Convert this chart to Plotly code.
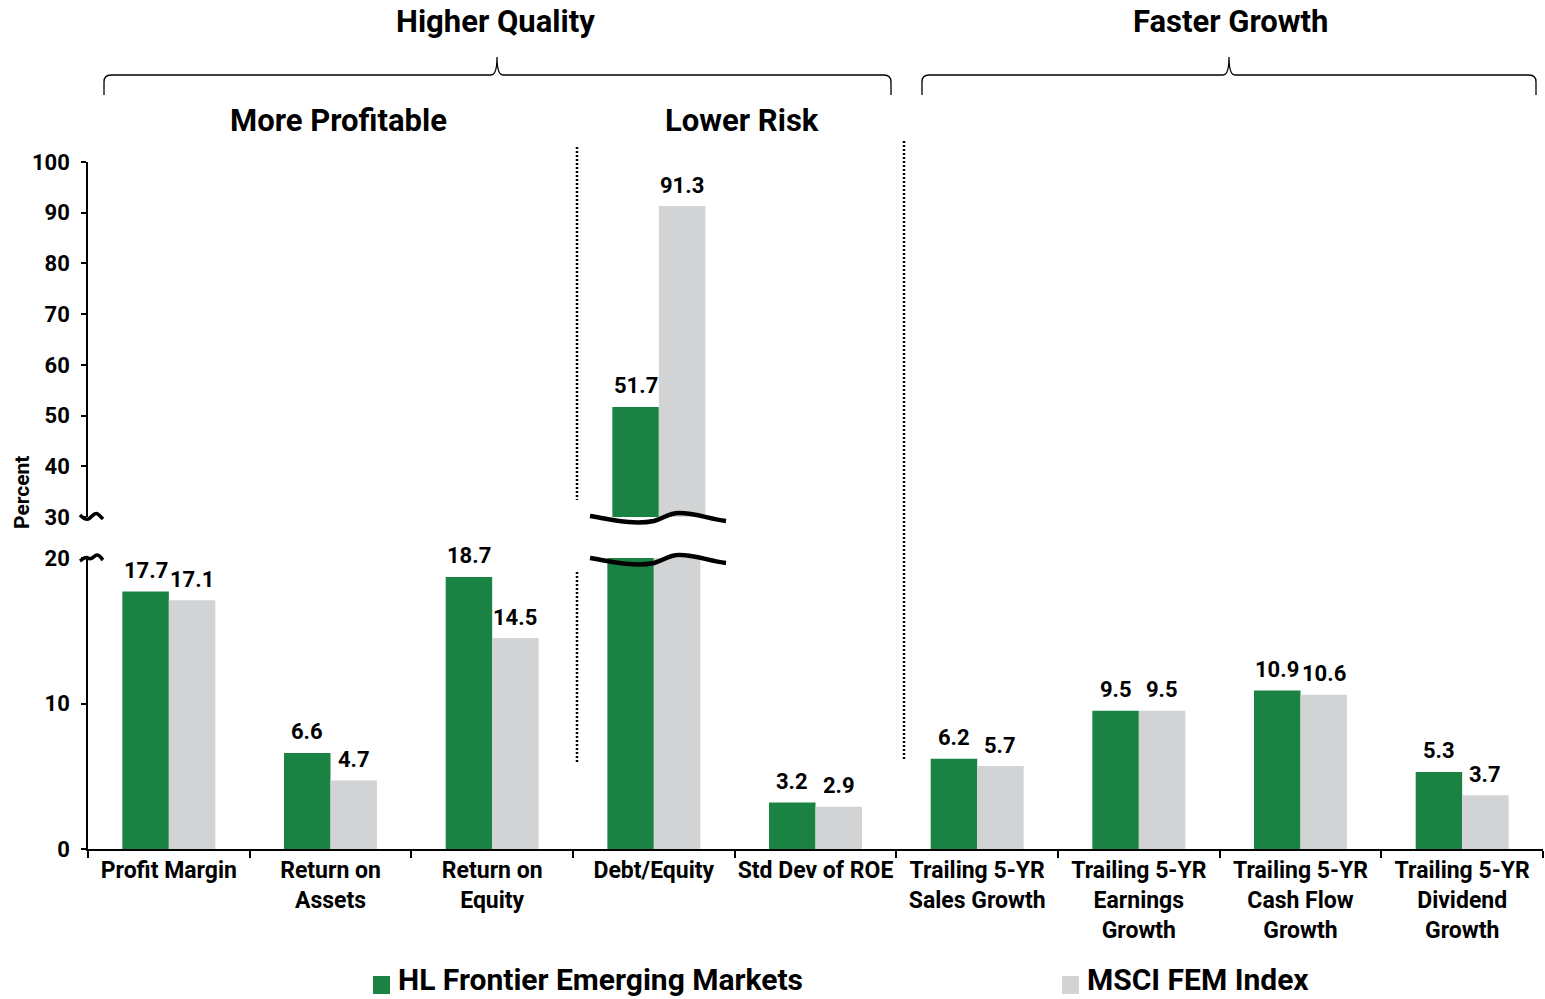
import plotly.graph_objects as go

# ---- data ----
categories = [
    "Profit Margin",
    "Return on<br>Assets",
    "Return on<br>Equity",
    "Debt/Equity",
    "Std Dev of ROE",
    "Trailing 5-YR<br>Sales Growth",
    "Trailing 5-YR<br>Earnings<br>Growth",
    "Trailing 5-YR<br>Cash Flow<br>Growth",
    "Trailing 5-YR<br>Dividend<br>Growth",
]
hl_fem = [17.7, 6.6, 18.7, 51.7, 3.2, 6.2, 9.5, 10.9, 5.3]
msci_fem = [17.1, 4.7, 14.5, 91.3, 2.9, 5.7, 9.5, 10.6, 3.7]
series_names = ["HL Frontier Emerging Markets", "MSCI FEM Index"]

lower_ticks = [0, 10, 20]
upper_ticks = [30, 40, 50, 60, 70, 80, 90, 100]
LOWER_MAX = 20   # top of the lower (0-20) axis segment
UPPER_MIN = 30   # bottom of the upper (30-100) axis segment
UPPER_MAX = 100

# ---- styling ----
GREEN = "#1A8242"
GREY = "#D1D3D4"
FONT = "Roboto"
W, H = 1545, 999
ML, MR, MT, MB = 88, 2, 162, 150
PW, PH = W - ML - MR, H - MT - MB
LOWER_DOMAIN = [0, 291 / PH]
UPPER_DOMAIN = [332 / PH, 1]
BARGAP = 0.425
BAR_W = (1 - BARGAP) / 2                  # width of one bar, in category units
CAT_PX = PW / len(categories)
HALF_BAR_PX = CAT_PX * BAR_W / 2           # centre offset of each bar in a pair
UPPER_NUDGE_PX = 5                         # upper segment bars sit slightly to the right
UPPER_NUDGE = UPPER_NUDGE_PX / CAT_PX


def px_x(p):
    return (p - ML) / PW


def px_y(p):
    return (H - MB - p) / PH


def fmt(v):
    return f"{v:.1f}"


def bold(size):
    return dict(family=FONT, size=size, color="black", weight="bold")


fig = go.Figure()
annotations = []
shapes = []

for i, (vals, color) in enumerate(((hl_fem, GREEN), (msci_fem, GREY))):
    # lower segment (0-20): bars capped at the break
    fig.add_trace(go.Bar(
        x=categories,
        y=[min(v, LOWER_MAX) for v in vals],
        marker=dict(color=color, line=dict(width=0)),
        xaxis="x", yaxis="y",
        showlegend=False, hoverinfo="skip",
    ))
    # upper segment (30-100): only values above the break
    fig.add_trace(go.Bar(
        x=categories,
        y=[v if v > UPPER_MIN else None for v in vals],
        width=BAR_W, offset=(i - 1) * BAR_W + UPPER_NUDGE,
        marker=dict(color=color, line=dict(width=0)),
        xaxis="x", yaxis="y2",
        showlegend=False, hoverinfo="skip",
    ))
    # value labels above each bar
    shift = -HALF_BAR_PX if i == 0 else HALF_BAR_PX
    for cat, v in zip(categories, vals):
        if v <= LOWER_MAX:
            yref, dx = "y", 0
        elif v > UPPER_MIN:
            yref, dx = "y2", UPPER_NUDGE_PX
        else:
            continue
        annotations.append(dict(
            text=fmt(v), x=cat, y=v, xref="x", yref=yref,
            xshift=shift + dx, yshift=21, xanchor="center", yanchor="middle",
            showarrow=False, font=bold(22),
        ))

# wavy break lines across the Debt/Equity bars
wave = "M -64,1 C -40,-3 -20,-8 0,-4 C 10,-1 15,4 25,4 C 42,4 55,-2 72,-4"
for yp in (517, 559):
    shapes.append(dict(
        type="path", xref="paper", yref="paper", xsizemode="pixel", ysizemode="pixel",
        xanchor=px_x(654), yanchor=px_y(yp), path=wave,
        line=dict(color="black", width=4.5), fillcolor="rgba(0,0,0,0)", layer="above",
    ))

# break marks on the y axis
shapes.append(dict(
    type="path", xref="paper", yref="paper", xsizemode="pixel", ysizemode="pixel",
    xanchor=0, yanchor=px_y(517),
    path="M -8,2 C -5,-1 -2,-4 2,-1 C 6,3 8,5 11,2 C 13,0 14,-1 15,-2",
    line=dict(color="black", width=3.5), fillcolor="rgba(0,0,0,0)",
))
shapes.append(dict(
    type="path", xref="paper", yref="paper", xsizemode="pixel", ysizemode="pixel",
    xanchor=0, yanchor=px_y(558),
    path="M -8,-3 C -5,-1 -3,2 0,0 C 4,-3 6,3 9,3 C 12,3 13,0 15,-2",
    line=dict(color="black", width=3.5), fillcolor="rgba(0,0,0,0)",
))

# dotted separators between groups
dots = dict(color="black", width=2.5, dash="2px,2px")
for x, y0, y1 in ((577, 147, 500), (577, 572, 762), (904, 141, 760)):
    shapes.append(dict(type="line", xref="paper", yref="paper",
                       x0=px_x(x), x1=px_x(x), y0=px_y(y0), y1=px_y(y1), line=dots))


# curly brackets over the groups
def brace(x0, xm, x1, ytop=75, ybot=95, ycusp=57, r=7):
    pts = (
        f"M {px_x(x0)},{px_y(ybot)} L {px_x(x0)},{px_y(ytop + r)} "
        f"Q {px_x(x0)},{px_y(ytop)} {px_x(x0 + r)},{px_y(ytop)} "
        f"L {px_x(xm - 6)},{px_y(ytop)} "
        f"Q {px_x(xm)},{px_y(ytop)} {px_x(xm)},{px_y(ycusp)} "
        f"Q {px_x(xm)},{px_y(ytop)} {px_x(xm + 6)},{px_y(ytop)} "
        f"L {px_x(x1 - r)},{px_y(ytop)} "
        f"Q {px_x(x1)},{px_y(ytop)} {px_x(x1)},{px_y(ytop + r)} "
        f"L {px_x(x1)},{px_y(ybot)}"
    )
    return dict(type="path", xref="paper", yref="paper", path=pts,
                line=dict(color="black", width=1.3), fillcolor="rgba(0,0,0,0)")


shapes.append(brace(104, 497, 891))
shapes.append(brace(922, 1229, 1536))


def label(text, x, y, size, xanchor="center", **kw):
    annotations.append(dict(
        text=text, x=px_x(x), y=px_y(y), xref="paper", yref="paper",
        xanchor=xanchor, yanchor="middle", borderpad=0,
        showarrow=False, font=bold(size), **kw,
    ))


label("Higher Quality", 495, 22, 31)
label("Faster Growth", 1230, 22, 31)
label("More Profitable", 338, 120, 31)
label("Lower Risk", 742, 120, 31)
label("Percent", 22, 493, 21, textangle=-90)

# legend
for x0, name, color in ((373, series_names[0], GREEN), (1062, series_names[1], GREY)):
    shapes.append(dict(type="rect", xref="paper", yref="paper",
                       x0=px_x(x0), x1=px_x(x0 + 17), y0=px_y(994), y1=px_y(976),
                       fillcolor=color, line=dict(width=0)))
    label(name, x0 + 24, 979, 30, xanchor="left")

yaxis_common = dict(
    showline=True, linecolor="black", linewidth=1.5,
    ticks="outside", ticklen=5, tickcolor="black", tickwidth=1.5,
    tickfont=bold(22), ticklabelstandoff=7, automargin=False,
    showgrid=False, zeroline=False, anchor="x",
)

fig.update_layout(
    width=W, height=H, autosize=False,
    margin=dict(l=ML, r=MR, t=MT, b=MB),
    paper_bgcolor="white", plot_bgcolor="white",
    barmode="group", bargap=BARGAP, bargroupgap=0,
    showlegend=False,
    font=dict(family=FONT, color="black"),
    xaxis=dict(
        type="category", range=[-0.5, len(categories) - 0.5],
        showline=True, linecolor="black", linewidth=1.5,
        ticks="outside", tickson="boundaries", ticklen=7, tickcolor="black", tickwidth=1.5,
        tickfont=bold(23), tickangle=0, automargin=False,
        showgrid=False, zeroline=False, anchor="y",
    ),
    yaxis=dict(domain=LOWER_DOMAIN, range=[0, LOWER_MAX], tickvals=lower_ticks, **yaxis_common),
    yaxis2=dict(domain=UPPER_DOMAIN, range=[UPPER_MIN, UPPER_MAX], tickvals=upper_ticks, **yaxis_common),
    shapes=shapes,
    annotations=annotations,
)

fig.write_html("out.html")
